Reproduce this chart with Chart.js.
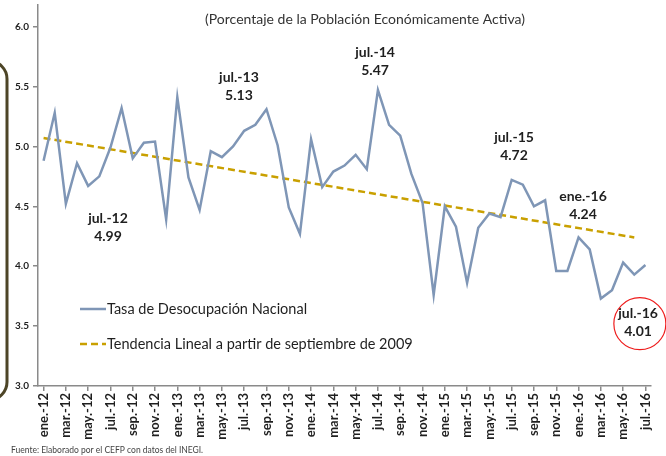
<!DOCTYPE html>
<html>
<head>
<meta charset="utf-8">
<script src="https://cdn.jsdelivr.net/npm/chart.js@4.4.1/dist/chart.umd.min.js"></script>
<style>
  html, body { margin: 0; padding: 0; background: #fff; }
</style>
</head>
<body>
<canvas id="desocupacion" width="666" height="456"></canvas>
<script>
// Meses (ene.-12 a jul.-16)
const meses = [
  'ene.-12', 'feb.-12', 'mar.-12', 'abr.-12', 'may.-12', 'jun.-12', 'jul.-12', 'ago.-12', 'sep.-12', 'oct.-12', 'nov.-12', 'dic.-12',
  'ene.-13', 'feb.-13', 'mar.-13', 'abr.-13', 'may.-13', 'jun.-13', 'jul.-13', 'ago.-13', 'sep.-13', 'oct.-13', 'nov.-13', 'dic.-13',
  'ene.-14', 'feb.-14', 'mar.-14', 'abr.-14', 'may.-14', 'jun.-14', 'jul.-14', 'ago.-14', 'sep.-14', 'oct.-14', 'nov.-14', 'dic.-14',
  'ene.-15', 'feb.-15', 'mar.-15', 'abr.-15', 'may.-15', 'jun.-15', 'jul.-15', 'ago.-15', 'sep.-15', 'oct.-15', 'nov.-15', 'dic.-15',
  'ene.-16', 'feb.-16', 'mar.-16', 'abr.-16', 'may.-16', 'jun.-16', 'jul.-16'
];

// Tasa de desocupación nacional (% de la PEA)
const tasa = [
  4.88, 5.28, 4.52, 4.86, 4.67, 4.75, 4.99, 5.32, 4.90, 5.03, 5.04, 4.39,
  5.41, 4.74, 4.47, 4.96, 4.91, 5.00, 5.13, 5.18, 5.31, 5.01, 4.49, 4.27,
  5.06, 4.66, 4.79, 4.84, 4.93, 4.81, 5.47, 5.18, 5.09, 4.77, 4.53, 3.76,
  4.50, 4.33, 3.86, 4.32, 4.44, 4.41, 4.72, 4.68, 4.50, 4.55, 3.96, 3.96,
  4.24, 4.14, 3.73, 3.80, 4.03, 3.93, 4.01
];

// Tendencia lineal (extremos de la recta)
const tendencia = [
  { x: 'ene.-12', y: 5.07 },
  { x: 'jun.-16', y: 4.24 }
];

// Etiquetas destacadas
const notas = [
  { mes: 'jul.-12', texto: '4.99' },
  { mes: 'jul.-13', texto: '5.13' },
  { mes: 'jul.-14', texto: '5.47' },
  { mes: 'jul.-15', texto: '4.72' },
  { mes: 'ene.-16', texto: '4.24' },
  { mes: 'jul.-16', texto: '4.01' }
];

// donde va cada nota (indice de categoria, valor en eje y)
const notasPos = [
  [5.78, 4.32], [17.53, 5.50], [29.74, 5.71], [42.21, 5.00], [48.40, 4.51], [53.34, 3.53]
];

const titulo = '(Porcentaje de la Población Económicamente Activa)';
const fuente = 'Fuente: Elaborado por el CEFP con datos del INEGI.';

const AZUL = 'rgb(127,150,182)';
const ORO = 'rgb(201,160,0)';
const EJE = '#8a8a8a';
const TXT = '#1f1f1f';
const FAM = 'Lato, "Liberation Sans", sans-serif';

const decor = {
  id: 'decor',
  beforeDraw(chart) {
    const ctx = chart.ctx;
    ctx.save();
    ctx.fillStyle = '#fff';
    ctx.fillRect(0, 0, chart.width, chart.height);
    // borde redondeado del recuadro de la izquierda
    ctx.strokeStyle = '#4d4527';
    ctx.lineWidth = 3;
    ctx.beginPath();
    ctx.roundRect(-60, 61, 67, 339, 18);
    ctx.stroke();
    ctx.restore();
  },
  afterDraw(chart) {
    const { ctx, scales: { x, y } } = chart;
    ctx.save();

    // titulo
    ctx.fillStyle = '#333';
    ctx.font = '14px ' + FAM;
    ctx.textAlign = 'center';
    ctx.textBaseline = 'middle';
    ctx.fillText(titulo, 365, 19);

    // notas
    ctx.fillStyle = TXT;
    ctx.font = 'bold 14px ' + FAM;
    notas.forEach((n, i) => {
      const px = x.getPixelForValue(notasPos[i][0]);
      const py = y.getPixelForValue(notasPos[i][1]);
      ctx.fillText(n.mes, px, py - 9);
      ctx.fillText(n.texto, px, py + 9);
    });

    // circulo rojo del ultimo dato
    const ult = meses.length - 1;
    ctx.strokeStyle = '#ee1c1c';
    ctx.lineWidth = 1.2;
    ctx.beginPath();
    ctx.arc(x.getPixelForValue(ult - 0.5), y.getPixelForValue(3.52), 26, 0, Math.PI * 2);
    ctx.stroke();

    // leyenda
    const lx = 80, lw = 26;
    const ds = chart.data.datasets;
    ctx.textAlign = 'left';
    ctx.font = '14.5px ' + FAM;
    [309, 344].forEach((ly, i) => {
      ctx.strokeStyle = ds[i].borderColor;
      ctx.lineWidth = 2.5;
      ctx.setLineDash(ds[i].borderDash || []);
      ctx.beginPath();
      ctx.moveTo(lx, ly);
      ctx.lineTo(lx + lw, ly);
      ctx.stroke();
      ctx.setLineDash([]);
      ctx.fillStyle = TXT;
      ctx.fillText(ds[i].label, lx + lw + 1, ly);
    });

    // fuente
    ctx.fillStyle = '#444';
    ctx.font = '8.5px ' + FAM;
    ctx.fillText(fuente, 11, 450);
    ctx.restore();
  }
};

new Chart(document.getElementById('desocupacion'), {
  type: 'line',
  data: {
    labels: meses,
    datasets: [
      {
        label: 'Tasa de Desocupación Nacional',
        data: tasa,
        borderColor: AZUL,
        borderWidth: 2.5,
        pointRadius: 0,
        tension: 0
      },
      {
        label: 'Tendencia Lineal a partir de septiembre de 2009',
        data: tendencia,
        borderColor: ORO,
        borderWidth: 2.5,
        borderDash: [7, 4],
        pointRadius: 0,
        tension: 0
      }
    ]
  },
  options: {
    responsive: false,
    animation: false,
    devicePixelRatio: 1,
    layout: { padding: { top: 5, right: 15, left: 0, bottom: 0 } },
    plugins: {
      legend: { display: false },
      tooltip: { enabled: false }
    },
    scales: {
      x: {
        offset: true,
        afterFit: (s) => { s.height = 70; s.paddingLeft = 0; s.paddingRight = 0; },
        grid: {
          drawOnChartArea: false,
          tickLength: 5,
          lineWidth: 1.5,
          color: (c) => (c.index % 2 === 0 ? EJE : 'rgba(0,0,0,0)')
        },
        border: { color: EJE, width: 1.5 },
        ticks: {
          autoSkip: false,
          minRotation: 90,
          maxRotation: 90,
          padding: 2,
          color: TXT,
          font: { family: FAM, size: 13, weight: 'bold' },
          callback: function (v, i) {
            return i % 2 === 0 ? this.getLabelForValue(v) : '';
          }
        }
      },
      y: {
        min: 3,
        max: 6.18,
        afterFit: (s) => { s.width = 38; s.paddingTop = 0; s.paddingBottom = 0; },
        afterBuildTicks: (s) => {
          s.ticks = s.ticks.filter((t) => Math.abs(t.value * 2 - Math.round(t.value * 2)) < 1e-6);
        },
        grid: { drawOnChartArea: false, tickLength: 5, lineWidth: 1.5, color: EJE },
        border: { color: EJE, width: 1.5 },
        ticks: {
          stepSize: 0.5,
          padding: 4,
          color: TXT,
          font: { family: FAM, size: 10, weight: 'bold' },
          callback: (v) => Number(v).toFixed(1)
        }
      }
    }
  },
  plugins: [decor]
});
</script>
</body>
</html>
